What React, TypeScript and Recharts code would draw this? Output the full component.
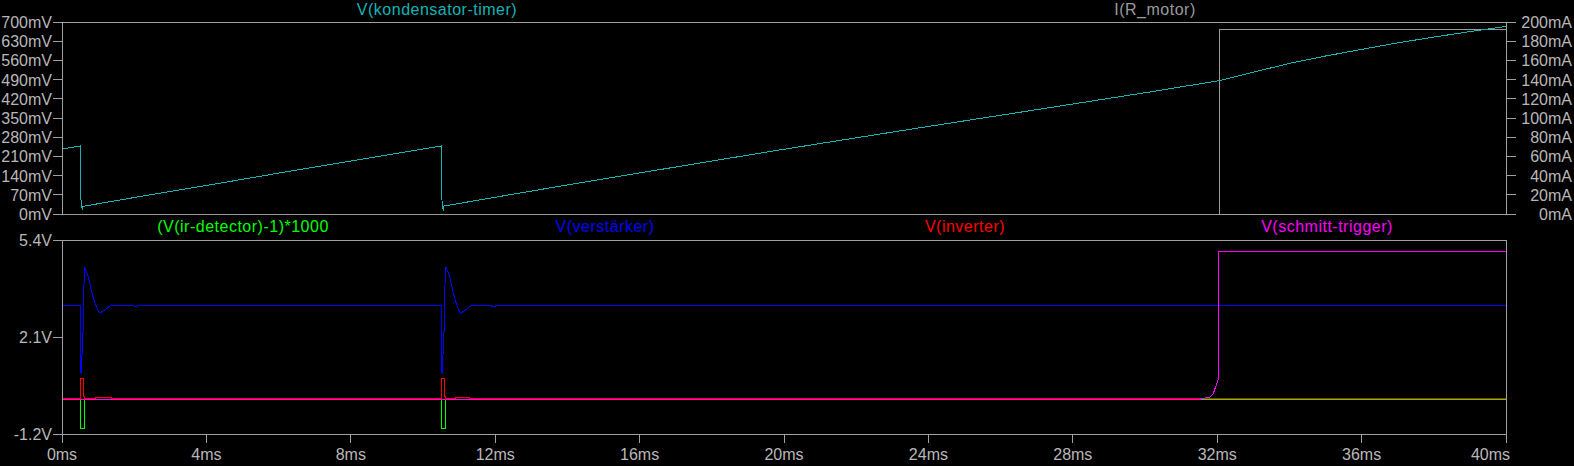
import React from 'react';
import { LineChart, Line, XAxis, YAxis, ReferenceArea } from 'recharts';

const FONT = '"Liberation Sans", Arial, sans-serif';
const AXIS = '#a0a0a0';
const TEXT = '#b8b8b8';

// axis ticks
const timeTicks = [0, 4, 8, 12, 16, 20, 24, 28, 32, 36, 40];
const mvTicks = [0, 70, 140, 210, 280, 350, 420, 490, 560, 630, 700];
const maTicks = [0, 20, 40, 60, 80, 100, 120, 140, 160, 180, 200];
const voltTicks = [-1.2, 2.1, 5.4];

// V(kondensator-timer), mV
const timerT = [0, 0.5, 0.507, 0.535, 0.562, 0.58, 2, 4, 6, 8, 10.5, 10.507, 10.535, 10.562, 10.58, 12, 14, 17.67, 20, 23.21, 26, 28, 30.14, 32.05, 33, 34, 35, 36, 37, 38, 39, 40];
const timerV = [237, 248, 81, 40, 15, 28, 60, 104, 149, 193, 248, 81, 36, 12, 29, 61, 106, 186, 236, 303, 360, 401, 445, 486, 517, 549, 576, 600, 624, 645, 665, 684];

// I(R_motor), mA
const motorT = [0, 32.05, 32.05, 40];
const motorI = [0, 0, 192, 192];

// (V(ir-detector)-1)*1000, V
const irT = [0, 0.507, 0.507, 0.618, 0.618, 10.507, 10.507, 10.618, 10.618, 40];
const irV = [-0.03, -0.03, -1.0, -1.0, -0.03, -0.03, -1.0, -1.0, -0.03, -0.03];

// V(verstärker), V
const versT = [0, 0.5, 0.507, 0.535, 0.563, 0.59, 0.618, 0.627, 0.73, 0.82, 0.914, 1.03, 1.05, 1.19, 1.33, 1.38, 1.975, 2.0, 2.07, 2.09,
  10.5, 10.507, 10.535, 10.563, 10.59, 10.618, 10.64, 10.74, 10.83, 10.92, 11.02, 11.04, 11.18, 11.32, 11.37, 11.88, 11.9, 12.0, 12.02, 40];
const versV = [3.18, 3.18, 0.97, 0.85, 1.78, 2.46, 4.47, 4.47, 4.15, 3.64, 3.25, 2.93, 2.92, 3.02, 3.16, 3.18, 3.18, 3.15, 3.15, 3.18,
  3.18, 0.97, 0.85, 1.78, 2.46, 4.47, 4.47, 4.15, 3.64, 3.25, 2.93, 2.91, 3.02, 3.16, 3.18, 3.18, 3.15, 3.15, 3.18, 3.18];

// V(inverter), V
const invT = [0, 0.507, 0.507, 0.59, 0.59, 0.618, 0.618, 0.94, 0.94, 1.36, 1.36, 10.507, 10.507, 10.59, 10.59, 10.618, 10.618, 10.89, 10.89, 11.3, 11.3, 40];
const invV = [0.01, 0.01, 0.7, 0.7, 0.09, 0.09, 0.01, 0.01, 0.04, 0.04, 0.01, 0.01, 0.7, 0.7, 0.09, 0.09, 0.01, 0.01, 0.04, 0.04, 0.01, 0.01];

// V(schmitt-trigger), V
const schT = [0, 31.5, 31.8, 31.89, 31.96, 32.04, 32.05, 40];
const schV = [-0.02, -0.02, 0.06, 0.17, 0.42, 0.7, 5.0, 5.0];

const toPoints = (t: number[], v: number[]) => t.map((x, i) => ({ t: x, v: v[i] }));

const timerData = toPoints(timerT, timerV);
const motorData = toPoints(motorT, motorI);
const irData = toPoints(irT, irV);
const versData = toPoints(versT, versV);
const invData = toPoints(invT, invV);
const schData = toPoints(schT, schV);

const leftTick = (unit: string) => (p: any) => (
  <text x={p.x} y={p.y} dy={6} textAnchor="end" fill={TEXT} fontSize={16} fontFamily={FONT}>
    {`${p.payload.value}${unit}`}
  </text>
);

const rightTick = (p: any) => (
  <text x={1572} y={p.y} dy={6} textAnchor="end" fill={TEXT} fontSize={16} fontFamily={FONT}>
    {`${p.payload.value}mA`}
  </text>
);

const timeTick = (p: any) => {
  const last = p.payload.value === 40;
  return (
    <text x={last ? p.x + 4 : p.x} y={p.y} dy={15} textAnchor={last ? 'end' : 'middle'} fill={TEXT} fontSize={16} fontFamily={FONT}>
      {`${p.payload.value}ms`}
    </text>
  );
};

const Title = ({ x, y, color, children }: { x: number; y: number; color: string; children: React.ReactNode }) => (
  <div
    style={{
      position: 'absolute', left: x, top: y, transform: 'translateX(-50%)', whiteSpace: 'nowrap',
      color, fontFamily: FONT, fontSize: 16, lineHeight: '18px', letterSpacing: 0.5,
    }}
  >
    {children}
  </div>
);

const lineProps = { type: 'linear' as const, dot: false, isAnimationActive: false, strokeWidth: 1, dataKey: 'v' };

export default function App() {
  return (
    <div className="lt" style={{ position: 'absolute', left: 0, top: 0, width: 1574, height: 466, background: '#000', overflow: 'hidden' }}>
      <style>{`.lt svg path, .lt svg line, .lt svg rect { shape-rendering: crispEdges; }`}</style>

      <div style={{ position: 'absolute', left: 0, top: 0 }}>
        <LineChart width={1574} height={228} margin={{ top: 22, right: 0, bottom: 14, left: 0 }}>
          <XAxis dataKey="t" type="number" domain={[0, 40]} allowDataOverflow hide />
          <YAxis yAxisId="mv" orientation="left" width={62} type="number" domain={[0, 700]} ticks={mvTicks} interval={0}
            tickSize={9} tickMargin={1} axisLine={{ stroke: AXIS }} tickLine={{ stroke: AXIS }} tick={leftTick('mV')} />
          <YAxis yAxisId="ma" orientation="right" width={68} type="number" domain={[0, 200]} ticks={maTicks} interval={0}
            tickSize={10} tickMargin={1} axisLine={{ stroke: AXIS }} tickLine={{ stroke: AXIS }} tick={rightTick} />
          <ReferenceArea yAxisId="mv" x1={0} x2={40} y1={0} y2={700} stroke={AXIS} fill="none" fillOpacity={0} ifOverflow="visible" />
          <Line {...lineProps} yAxisId="ma" data={motorData} stroke="#9a9a9a" />
          <Line {...lineProps} yAxisId="mv" data={timerData} stroke="#14b4b4" />
        </LineChart>
      </div>

      <div style={{ position: 'absolute', left: 0, top: 228 }}>
        <LineChart width={1574} height={238} margin={{ top: 12, right: 68, bottom: 0, left: 0 }}>
          <XAxis dataKey="t" type="number" domain={[0, 40]} ticks={timeTicks} interval={0} allowDataOverflow height={32}
            tickSize={9} tickMargin={2} axisLine={{ stroke: AXIS }} tickLine={{ stroke: AXIS }} tick={timeTick} />
          <YAxis width={62} type="number" domain={[-1.2, 5.4]} ticks={voltTicks} interval={0} allowDataOverflow
            tickSize={9} tickMargin={1} axisLine={{ stroke: AXIS }} tickLine={{ stroke: AXIS }} tick={leftTick('V')} />
          <ReferenceArea x1={0} x2={40} y1={-1.2} y2={5.4} stroke={AXIS} fill="none" fillOpacity={0} ifOverflow="visible" />
          <Line {...lineProps} data={irData} stroke="#00ff00" />
          <Line {...lineProps} data={versData} stroke="#0000ff" />
          <Line {...lineProps} data={invData} stroke="#ff0000" />
          <Line {...lineProps} data={schData} stroke="#ff00ff" />
        </LineChart>
      </div>

      <Title x={437} y={1} color="#14b4b4">V(kondensator-timer)</Title>
      <Title x={1155} y={1} color="#9a9a9a">I(R_motor)</Title>
      <Title x={243} y={218} color="#00ff00">(V(ir-detector)-1)*1000</Title>
      <Title x={605} y={218} color="#0000ff">V(verstärker)</Title>
      <Title x={965} y={218} color="#ff0000">V(inverter)</Title>
      <Title x={1327} y={218} color="#ff00ff">V(schmitt-trigger)</Title>
    </div>
  );
}
